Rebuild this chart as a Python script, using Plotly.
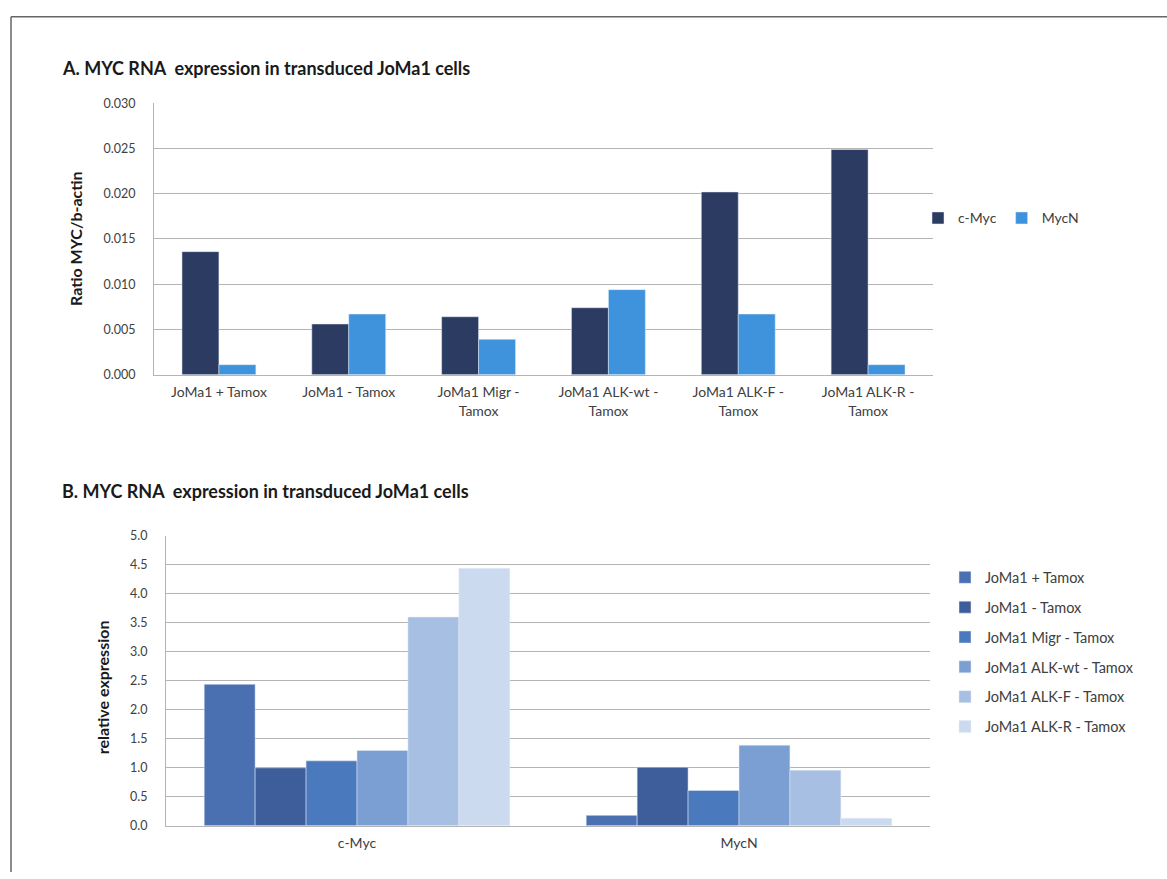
import plotly.graph_objects as go

W, H = 1167, 879

# ---- data panel A ----
cells_a = ["JoMa1 + Tamox", "JoMa1 - Tamox", "JoMa1 Migr -<br>Tamox",
           "JoMa1 ALK-wt -<br>Tamox", "JoMa1 ALK-F -<br>Tamox", "JoMa1 ALK-R -<br>Tamox"]
cmyc_ratio = [0.0136, 0.0056, 0.0064, 0.0074, 0.0202, 0.0249]
mycn_ratio = [0.0011, 0.0067, 0.0039, 0.0094, 0.0067, 0.0011]

# ---- data panel B ----
genes_b = ["c-Myc", "MycN"]
series_b = ["JoMa1 + Tamox", "JoMa1 - Tamox", "JoMa1 Migr - Tamox",
            "JoMa1 ALK-wt - Tamox", "JoMa1 ALK-F - Tamox", "JoMa1 ALK-R - Tamox"]
rel_expr = [
    [2.44, 0.18],
    [1.00, 1.01],
    [1.12, 0.61],
    [1.30, 1.39],
    [3.60, 0.96],
    [4.44, 0.13],
]

colors_a = ["#2c3b62", "#3f93dc"]
colors_b = ["#4a70b2", "#3e5d9b", "#4b79be", "#7c9fd3", "#a6bfe3", "#cbdaef"]

FONT = "Lato, 'Open Sans', sans-serif"
TXT = "#404040"

fig = go.Figure()

bw = 0.2846
fig.add_trace(go.Bar(x=cells_a, y=cmyc_ratio, name="c-Myc", marker_color=colors_a[0],
                     width=bw, offset=-bw, xaxis="x", yaxis="y", legend="legend"))
fig.add_trace(go.Bar(x=cells_a, y=mycn_ratio, name="MycN", marker_color=colors_a[1],
                     width=bw, offset=0, xaxis="x", yaxis="y", legend="legend"))

for i, (nm, vals) in enumerate(zip(series_b, rel_expr)):
    fig.add_trace(go.Bar(x=genes_b, y=vals, name=nm, marker_color=colors_b[i],
                         xaxis="x2", yaxis="y2", legend="legend2", legendgroup=nm))

def px_x(p):
    return p / W

def px_y(p):
    return 1 - p / H

grid = "#b4b4b4"
tickfont = dict(family=FONT, size=12.5, color=TXT)
xtickfont = dict(family=FONT, size=14, color=TXT)

fig.update_layout(
    width=W, height=H,
    margin=dict(l=0, r=0, t=0, b=0),
    paper_bgcolor="white", plot_bgcolor="white",
    barmode="group", bargap=0.2, bargroupgap=0,
    font=dict(family=FONT, color=TXT),
    xaxis=dict(domain=[px_x(154), px_x(933)], anchor="y", showgrid=False,
               showline=True, linecolor=grid, linewidth=1, tickfont=xtickfont,
               ticks="", ticklabelstandoff=5, fixedrange=True),
    yaxis=dict(domain=[px_y(373), px_y(97)], anchor="x", range=[0, 0.030], dtick=0.005,
               tickformat=".3f", showgrid=True, gridcolor=grid, gridwidth=1,
               showline=True, linecolor=grid, linewidth=1, zeroline=False,
               tickfont=tickfont, ticks="", ticklabelstandoff=15),
    xaxis2=dict(domain=[px_x(166), px_x(930)], anchor="y2", showgrid=False,
                showline=True, linecolor=grid, linewidth=1, tickfont=xtickfont,
                ticks="", ticklabelstandoff=4),
    yaxis2=dict(domain=[px_y(832), px_y(537)], anchor="x2", range=[0, 5.0], dtick=0.5,
                tickformat=".1f", showgrid=True, gridcolor=grid, gridwidth=1,
                showline=True, linecolor=grid, linewidth=1, zeroline=False,
                tickfont=tickfont, ticks="", ticklabelstandoff=15),
    legend=dict(orientation="h", x=px_x(918), y=px_y(214), xanchor="left", yanchor="middle",
                font=dict(family=FONT, size=14, color=TXT), itemwidth=30,
                bgcolor="rgba(0,0,0,0)"),
    legend2=dict(orientation="v", x=px_x(945), y=px_y(563), xanchor="left", yanchor="top",
                 font=dict(family=FONT, size=14.5, color=TXT), itemwidth=30,
                 tracegroupgap=8, bgcolor="rgba(0,0,0,0)"),
    showlegend=True,
)

annos = [
    dict(text="A. MYC RNA\u00a0 expression in transduced JoMa1 cells", x=px_x(60), y=px_y(61),
         xanchor="left", yanchor="middle", font=dict(family=FONT, size=18, color="#1a1a1a", weight="bold")),
    dict(text="B. MYC RNA\u00a0 expression in transduced JoMa1 cells", x=px_x(60), y=px_y(491),
         xanchor="left", yanchor="middle", font=dict(family=FONT, size=18, color="#1a1a1a", weight="bold")),
    dict(text="Ratio MYC/b-actin", x=px_x(76), y=px_y(235), textangle=-90,
         xanchor="center", yanchor="middle", font=dict(family=FONT, size=16, color="#1a1a1a", weight="bold")),
    dict(text="relative expression", x=px_x(102), y=px_y(691), textangle=-90,
         xanchor="center", yanchor="middle", font=dict(family=FONT, size=16, color="#1a1a1a", weight="bold")),
]
for a in annos:
    a.update(xref="paper", yref="paper", showarrow=False)
fig.update_layout(annotations=annos)

fig.update_layout(shapes=[
    dict(type="line", xref="paper", yref="paper", x0=px_x(11), x1=px_x(11), y0=0, y1=px_y(9),
         line=dict(color="#666666", width=1.5)),
    dict(type="line", xref="paper", yref="paper", x0=px_x(11), x1=1, y0=px_y(9), y1=px_y(9),
         line=dict(color="#666666", width=1.5)),
])

fig.write_html("out.html")
